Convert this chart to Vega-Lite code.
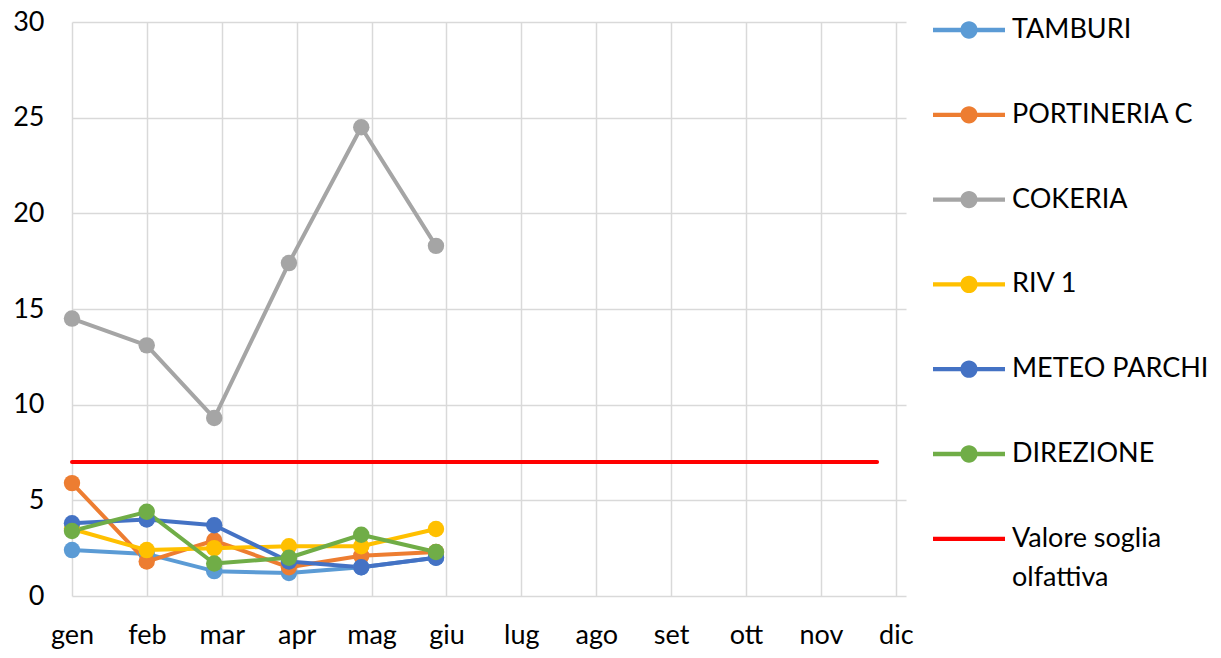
{
  "$schema": "https://vega.github.io/schema/vega-lite/v6.json",
  "autosize": {"type": "none"},
  "padding": {"left": 72, "top": 22, "right": 315, "bottom": 62},
  "width": 834,
  "height": 574,
  "background": "white",
  "config": {
    "font": "Lato",
    "view": {"stroke": null},
    "axis": {"labelFont": "Lato", "labelColor": "#000000", "labelFontSize": 27, "gridColor": "#D9D9D9", "gridWidth": 1.5, "ticks": false, "domain": false, "title": null}
  },
  "data": {
    "values": [
      {"mese": "2021-01-01", "stazione": "TAMBURI", "valore": 2.4},
      {"mese": "2021-02-01", "stazione": "TAMBURI", "valore": 2.2},
      {"mese": "2021-03-01", "stazione": "TAMBURI", "valore": 1.3},
      {"mese": "2021-04-01", "stazione": "TAMBURI", "valore": 1.2},
      {"mese": "2021-05-01", "stazione": "TAMBURI", "valore": 1.5},
      {"mese": "2021-06-01", "stazione": "TAMBURI", "valore": 2.0},
      {"mese": "2021-01-01", "stazione": "PORTINERIA C", "valore": 5.9},
      {"mese": "2021-02-01", "stazione": "PORTINERIA C", "valore": 1.8},
      {"mese": "2021-03-01", "stazione": "PORTINERIA C", "valore": 2.9},
      {"mese": "2021-04-01", "stazione": "PORTINERIA C", "valore": 1.5},
      {"mese": "2021-05-01", "stazione": "PORTINERIA C", "valore": 2.1},
      {"mese": "2021-06-01", "stazione": "PORTINERIA C", "valore": 2.3},
      {"mese": "2021-01-01", "stazione": "COKERIA", "valore": 14.5},
      {"mese": "2021-02-01", "stazione": "COKERIA", "valore": 13.1},
      {"mese": "2021-03-01", "stazione": "COKERIA", "valore": 9.3},
      {"mese": "2021-04-01", "stazione": "COKERIA", "valore": 17.4},
      {"mese": "2021-05-01", "stazione": "COKERIA", "valore": 24.5},
      {"mese": "2021-06-01", "stazione": "COKERIA", "valore": 18.3},
      {"mese": "2021-01-01", "stazione": "RIV 1", "valore": 3.5},
      {"mese": "2021-02-01", "stazione": "RIV 1", "valore": 2.4},
      {"mese": "2021-03-01", "stazione": "RIV 1", "valore": 2.5},
      {"mese": "2021-04-01", "stazione": "RIV 1", "valore": 2.6},
      {"mese": "2021-05-01", "stazione": "RIV 1", "valore": 2.6},
      {"mese": "2021-06-01", "stazione": "RIV 1", "valore": 3.5},
      {"mese": "2021-01-01", "stazione": "METEO PARCHI", "valore": 3.8},
      {"mese": "2021-02-01", "stazione": "METEO PARCHI", "valore": 4.0},
      {"mese": "2021-03-01", "stazione": "METEO PARCHI", "valore": 3.7},
      {"mese": "2021-04-01", "stazione": "METEO PARCHI", "valore": 1.8},
      {"mese": "2021-05-01", "stazione": "METEO PARCHI", "valore": 1.5},
      {"mese": "2021-06-01", "stazione": "METEO PARCHI", "valore": 2.0},
      {"mese": "2021-01-01", "stazione": "DIREZIONE", "valore": 3.4},
      {"mese": "2021-02-01", "stazione": "DIREZIONE", "valore": 4.4},
      {"mese": "2021-03-01", "stazione": "DIREZIONE", "valore": 1.7},
      {"mese": "2021-04-01", "stazione": "DIREZIONE", "valore": 2.0},
      {"mese": "2021-05-01", "stazione": "DIREZIONE", "valore": 3.2},
      {"mese": "2021-06-01", "stazione": "DIREZIONE", "valore": 2.3},
      {"mese": "2021-01-01", "stazione": "Valore soglia olfattiva", "valore": 7},
      {"mese": "2021-02-01", "stazione": "Valore soglia olfattiva", "valore": 7},
      {"mese": "2021-03-01", "stazione": "Valore soglia olfattiva", "valore": 7},
      {"mese": "2021-04-01", "stazione": "Valore soglia olfattiva", "valore": 7},
      {"mese": "2021-05-01", "stazione": "Valore soglia olfattiva", "valore": 7},
      {"mese": "2021-06-01", "stazione": "Valore soglia olfattiva", "valore": 7},
      {"mese": "2021-07-01", "stazione": "Valore soglia olfattiva", "valore": 7},
      {"mese": "2021-08-01", "stazione": "Valore soglia olfattiva", "valore": 7},
      {"mese": "2021-09-01", "stazione": "Valore soglia olfattiva", "valore": 7},
      {"mese": "2021-10-01", "stazione": "Valore soglia olfattiva", "valore": 7},
      {"mese": "2021-11-01", "stazione": "Valore soglia olfattiva", "valore": 7},
      {"mese": "2021-12-01", "stazione": "Valore soglia olfattiva", "valore": 7}
    ]
  },
  "encoding": {
    "x": {
      "field": "mese",
      "type": "temporal",
      "scale": {"type": "utc", "nice": false, "domain": [{"year": 2021, "month": 1, "date": 1, "utc": true}, {"year": 2021, "month": 12, "date": 13, "utc": true}]},
      "axis": {
        "values": [1609459200000, 1612143648000, 1614828096000, 1617512544000, 1620196992000, 1622881440000, 1625565888000, 1628250336000, 1630934784000, 1633619232000, 1636303680000, 1638988128000],
        "labelExpr": "['gen','feb','mar','apr','mag','giu','lug','ago','set','ott','nov','dic'][round((datum.value - 1609459200000) / 2684448000)]",
        "grid": true,
        "labelPadding": 26,
        "labelAngle": 0,
        "labelOverlap": false,
        "labelFlush": false
      }
    },
    "y": {
      "field": "valore",
      "type": "quantitative",
      "scale": {"domain": [0, 30], "nice": false, "zero": true},
      "axis": {"values": [0, 5, 10, 15, 20, 25, 30], "grid": true, "labelPadding": 28}
    },
    "color": {
      "field": "stazione",
      "type": "nominal",
      "scale": {
        "domain": ["TAMBURI", "PORTINERIA C", "COKERIA", "RIV 1", "METEO PARCHI", "DIREZIONE", "Valore soglia olfattiva"],
        "range": ["#5B9BD5", "#ED7D31", "#A5A5A5", "#FFC000", "#4472C4", "#70AD47", "#FF0000"]
      },
      "legend": {
        "title": null,
        "orient": "none",
        "legendX": 861,
        "legendY": -28,
        "padding": 0,
        "symbolSize": 5184,
        "rowPadding": 35.8,
        "labelOffset": 7,
        "labelFont": "Lato",
        "labelFontSize": 27,
        "labelColor": "#000000",
        "labelLimit": 400,
        "labelExpr": "datum.label === 'Valore soglia olfattiva' ? ['Valore soglia', 'olfattiva'] : datum.label",
        "encode": {
          "symbols": {
            "update": {
              "shape": {"signal": "datum.value === 'Valore soglia olfattiva' ? 'M-1,-0.06H1V0.06H-1Z' : 'M-1,-0.06H1V0.06H-1Z M0.24,0A0.24,0.24 0 1,1 -0.24,0A0.24,0.24 0 1,1 0.24,0Z'"},
              "fill": {"signal": "scale('color', datum.value)"},
              "stroke": {"value": "transparent"},
              "strokeWidth": {"value": 0},
              "opacity": {"value": 1}
            }
          },
          "labels": {
            "update": {
              "lineHeight": {"value": 39}
            }
          }
        }
      }
    }
  },
  "layer": [
    {
      "mark": {"type": "line", "strokeWidth": 4, "strokeCap": "round", "strokeJoin": "round"}
    },
    {
      "transform": [{"filter": "datum.stazione !== 'Valore soglia olfattiva'"}],
      "mark": {"type": "point", "shape": "circle", "filled": true, "size": 270, "opacity": 1}
    }
  ]
}
